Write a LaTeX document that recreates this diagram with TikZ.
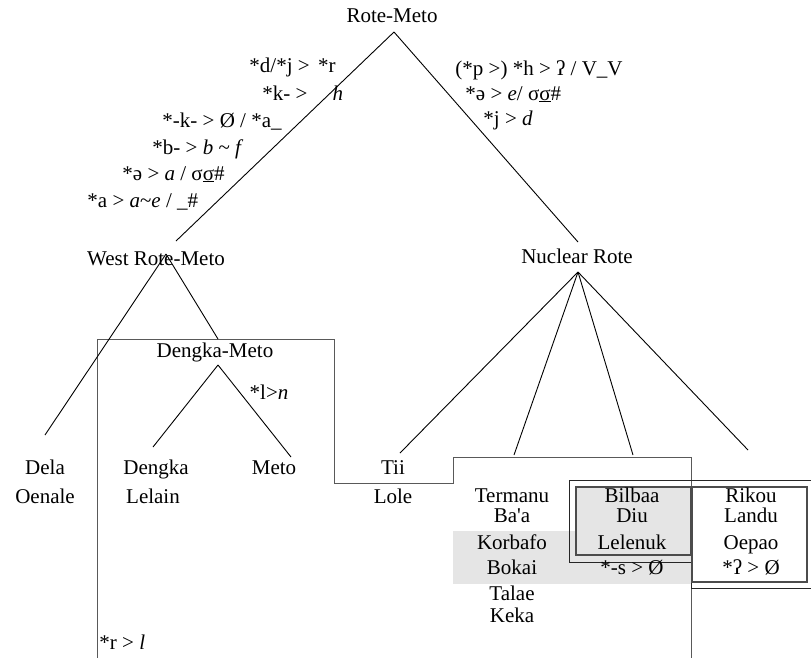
\documentclass[tikz,border=0pt]{standalone}
\usepackage{fontspec}
\setmainfont{Liberation Serif}
\begin{document}
\begin{tikzpicture}[x=1pt,y=-1pt,line width=0.9pt,
	lang/.style={font=\fontsize{21}{24}\selectfont,inner sep=0pt,anchor=base},
	rule left/.style={lang,anchor=base west},
	frame/.style={draw=black!65,line width=0.9pt}]
	\useasboundingbox (0,0) rectangle (811,657);

	% shading
	\fill[black!10] (453,531) rectangle (691,584);
	\draw[fill=black!10,draw=black!70,line width=1.4pt] (576,487) rectangle (691,555);

	% outlines
	\draw[frame] (97,660) -- (97,339) -- (334,339) -- (334,483) -- (453,483) -- (453,457) -- (691,457) -- (691,660);
	\draw[black!85] (812,480) -- (569,480) -- (569,562) -- (691,562) -- (691,588) -- (812,588);
	\draw[black!70,line width=1.2pt] (692,487) rectangle (807,582);

	% nodes
	\node[lang] at (392,22) (rm) {Rote-Meto};
	\node[lang] at (156,265) (wrm) {West Rote-Meto};
	\node[lang] at (577,263) (nr) {Nuclear Rote};
	\node[lang] at (215,357) (dm) {Dengka-Meto};

	\node[lang] at (45,474) (dela) {Dela};
	\node[lang] at (45,503) (oenale) {Oenale};
	\node[lang] at (156,474) (dengka) {Dengka};
	\node[lang] at (153,503) (lelain) {Lelain};
	\node[lang] at (274,474) (meto) {Meto};
	\node[lang] at (393,474) (tii) {Tii};
	\node[lang] at (393,503) (lole) {Lole};

	\node[lang] at (512,502) (termanu) {Termanu};
	\node[lang] at (512,522) (baa) {Ba\textquotesingle a};
	\node[lang] at (512,549) (korbafo) {Korbafo};
	\node[lang] at (512,574) (bokai) {Bokai};
	\node[lang] at (512,600) (talae) {Talae};
	\node[lang] at (512,622) (keka) {Keka};

	\node[lang] at (632,502) (bilbaa) {Bilbaa};
	\node[lang] at (632,522) (diu) {Diu};
	\node[lang] at (632,549) (lelenuk) {Lelenuk};
	\node[lang] at (632,574) (s loss) {*-s > Ø};

	\node[lang] at (751,502) (rikou) {Rikou};
	\node[lang] at (751,522) (landu) {Landu};
	\node[lang] at (751,549) (oepao) {Oepao};
	\node[lang] at (751,574) (glottal loss) {*ʔ > Ø};

	% sound changes
	\node[rule left] at (249,72) (r1) {*d/*j >\hspace{0.4em}*r};
	\node[rule left] at (262,100) (r2) {*k- >\hspace{1.2em}\textit{h}};
	\node[rule left] at (162,127) (r3) {*-k- > Ø / *a\_};
	\node[rule left] at (152,154) (r4) {*b- > \textit{b} \textasciitilde\ \textit{f}};
	\node[rule left] at (122,180) (r5) {*ə > \textit{a} / σ\underline{σ}\#};
	\node[rule left] at (87,207) (r6) {*a > \textit{a}\textasciitilde\textit{e} / \_\#};
	\node[rule left] at (455,75) (n1) {(*p >) *h > ʔ / V\_V};
	\node[rule left] at (465,100) (n2) {*ə > \textit{e}/ σ\underline{σ}\#};
	\node[rule left] at (483,125) (n3) {*j > \textit{d}};
	\node[lang] at (269,399) (dm rule) {*l>\textit{n}};
	\node[rule left] at (99,649) (r to l) {*r > \textit{l}};

	% branch points
	\coordinate (top) at (394,32);
	\coordinate (wrm top) at (176,241);
	\coordinate (wrm foot) at (166,254);
	\coordinate (nr top) at (578,242);
	\coordinate (nr foot) at (578,272);
	\coordinate (dm top) at (218,339);
	\coordinate (dm foot) at (218,365);

	\path[draw]
		(top) edge (wrm top)
		(top) edge (nr top)
		(wrm foot) edge (45,435)
		(wrm foot) edge (dm top)
		(dm foot) edge (153,447)
		(dm foot) edge (291,457)
		(nr foot) edge (400,453)
		(nr foot) edge (514,455)
		(nr foot) edge (633,455)
		(nr foot) edge (748,450)
		;
\end{tikzpicture}
\end{document}
